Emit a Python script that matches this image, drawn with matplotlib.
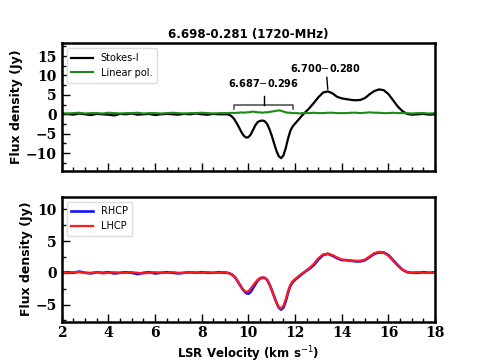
import matplotlib
matplotlib.use("Agg")
import matplotlib.pyplot as plt
import numpy as np
from matplotlib.ticker import MultipleLocator

# Velocity channels (km/s)
vel = [2.0, 2.25, 2.5, 2.75, 3.0, 3.25, 3.5, 3.75, 4.0, 4.25, 4.5, 4.75, 5.0, 5.25, 5.5,
       5.75, 6.0, 6.25, 6.5, 6.75, 7.0, 7.25, 7.5, 7.75, 8.0, 8.25, 8.5, 8.75, 9.0,
       9.1, 9.2, 9.3, 9.4, 9.5, 9.6, 9.7, 9.8, 9.9, 10.0, 10.1, 10.2, 10.3, 10.4, 10.5,
       10.6, 10.7, 10.8, 10.9, 11.0, 11.1, 11.2, 11.3, 11.4, 11.5, 11.6, 11.7, 11.8, 11.9,
       12.0, 12.1, 12.2, 12.3, 12.4,
       12.6, 12.8, 13.0, 13.2, 13.4, 13.6, 13.8, 14.0, 14.2, 14.4, 14.6, 14.8, 15.0, 15.2,
       15.4, 15.6, 15.8, 16.0, 16.2, 16.4, 16.6, 16.8, 17.0,
       17.25, 17.5, 17.75, 18.0]

stokes_i = [0.0, 0.1, -0.1, 0.2, 0.0, -0.2, 0.1, 0.0, -0.1, -0.3, 0.1, 0.0, 0.2, -0.1, 0.0,
            0.1, -0.2, 0.0, 0.1, 0.0, -0.1, 0.1, 0.0, 0.2, 0.0, -0.1, 0.1, 0.0, 0.0,
            0.0, -0.2, -0.6, -1.3, -2.3, -3.4, -4.6, -5.5, -6.0, -5.9, -5.2, -4.0, -2.8, -2.0, -1.7,
            -1.6, -1.8, -2.5, -3.8, -5.5, -7.5, -9.4, -10.8, -11.3, -10.6, -8.7, -6.2, -4.2, -3.1,
            -2.4, -1.7, -1.0, -0.3, 0.3,
            1.5, 2.9, 4.4, 5.6, 5.9, 5.4, 4.5, 4.1, 3.9, 3.7, 3.6, 3.7, 4.2, 5.2,
            6.0, 6.4, 6.2, 5.2, 3.6, 2.0, 0.8, 0.1, -0.1,
            0.0, 0.1, -0.1, 0.0]

linear_pol = [0.3, 0.2, 0.3, 0.4, 0.2, 0.3, 0.3, 0.2, 0.4, 0.3, 0.2, 0.3, 0.3, 0.4, 0.2,
              0.3, 0.3, 0.2, 0.3, 0.4, 0.3, 0.2, 0.3, 0.3, 0.4, 0.3, 0.2, 0.3, 0.3,
              0.3, 0.3, 0.4, 0.3, 0.4, 0.4, 0.5, 0.4, 0.5, 0.5, 0.6, 0.7, 0.6, 0.5, 0.5,
              0.4, 0.5, 0.5, 0.6, 0.7, 0.8, 0.9, 1.0, 0.9, 0.7, 0.5, 0.4, 0.4, 0.3,
              0.3, 0.3, 0.2, 0.3, 0.3,
              0.3, 0.4, 0.3, 0.3, 0.4, 0.4, 0.3, 0.3, 0.3, 0.4, 0.4, 0.3, 0.4, 0.5,
              0.4, 0.4, 0.3, 0.3, 0.4, 0.3, 0.3, 0.3, 0.2,
              0.3, 0.3, 0.2, 0.3]

rhcp = [0.0, 0.1, 0.0, 0.2, 0.0, -0.1, 0.1, 0.0, 0.1, -0.1, 0.0, 0.1, 0.0, -0.2, 0.0,
        0.1, -0.1, 0.0, 0.1, 0.0, -0.1, 0.0, 0.1, 0.0, 0.1, 0.0, 0.0, 0.1, 0.0,
        0.0, -0.1, -0.3, -0.6, -1.1, -1.7, -2.3, -2.8, -3.2, -3.3, -3.0, -2.4, -1.8, -1.2, -0.9,
        -0.8, -0.8, -1.1, -1.8, -2.7, -3.7, -4.7, -5.5, -5.8, -5.5, -4.5, -3.1, -2.0, -1.5,
        -1.1, -0.8, -0.5, -0.2, 0.1,
        0.6, 1.2, 2.1, 2.8, 3.0, 2.7, 2.3, 2.0, 2.0, 1.9, 1.8, 1.8, 2.0, 2.5,
        3.0, 3.2, 3.2, 2.8, 2.0, 1.2, 0.5, 0.1, 0.0,
        0.0, 0.1, 0.0, 0.1]

lhcp = [0.0, 0.0, 0.1, 0.1, 0.0, 0.0, 0.1, -0.1, 0.0, 0.1, 0.0, 0.0, 0.1, 0.0, -0.1,
        0.0, 0.1, 0.0, 0.0, 0.1, 0.0, 0.0, 0.1, 0.0, 0.0, 0.1, 0.0, 0.0, 0.1,
        0.0, -0.1, -0.3, -0.6, -1.1, -1.7, -2.3, -2.8, -3.0, -2.9, -2.5, -2.0, -1.5, -1.1, -0.8,
        -0.7, -0.8, -1.1, -1.8, -2.7, -3.7, -4.7, -5.4, -5.6, -5.2, -4.2, -2.9, -1.9, -1.3,
        -1.0, -0.7, -0.4, -0.1, 0.1,
        0.7, 1.4, 2.3, 2.9, 3.0, 2.8, 2.4, 2.1, 2.0, 1.9, 1.9, 1.9, 2.1, 2.6,
        3.1, 3.3, 3.2, 2.7, 1.9, 1.1, 0.5, 0.1, 0.0,
        0.1, 0.0, 0.0, 0.0]

title = "6.698-0.281 (1720-MHz)"
label_a = "6.687$-$0.296"
label_b = "6.700$-$0.280"
bracket_a = (9.4, 11.9, 2.4, 1.3, 4.7)   # x0, x1, y top, y end, y center tick
label_a_pos = (10.65, 8.0)
tick_b = (13.36, 9.5, 13.4, 6.5)
label_b_pos = (13.3, 11.8)

plt.rcParams['font.family'] = ['DejaVu Sans']
fig = plt.figure(figsize=(4.84, 3.63), dpi=100)
ax1 = fig.add_axes([0.1275, 0.530, 0.7715, 0.351])
ax2 = fig.add_axes([0.1275, 0.114, 0.7715, 0.344])

ax1.plot(vel, stokes_i, color='black', lw=1.6, label='Stokes-I')
ax1.plot(vel, linear_pol, color='#1a8a1a', lw=1.5, label='Linear pol.')
ax2.plot(vel, rhcp, color='#1010ff', lw=1.9, label='RHCP')
ax2.plot(vel, lhcp, color='#ff1a1a', lw=1.6, label='LHCP')

# annotations
x0, x1, yt, ye, yc = bracket_a
ax1.plot([x0, x0, x1, x1], [ye, yt, yt, ye], color='#555555', lw=1.2)
ax1.plot([(x0 + x1) / 2] * 2, [yt, yc], color='black', lw=1.0)
ax1.text(label_a_pos[0], label_a_pos[1], label_a, ha='center', va='center',
         fontsize=7, fontweight='bold')
ax1.plot([tick_b[0], tick_b[2]], [tick_b[1], tick_b[3]], color='black', lw=1.0)
ax1.text(label_b_pos[0], label_b_pos[1], label_b, ha='center', va='center',
         fontsize=7, fontweight='bold')

ax1.set_xlim(2, 18)
ax2.set_xlim(2, 18)
ax1.set_ylim(-14.5, 18.3)
ax2.set_ylim(-7.7, 12)
ax1.set_yticks([-10, -5, 0, 5, 10, 15])
ax2.set_yticks([-5, 0, 5, 10])
ax2.set_xticks(np.arange(2, 19, 2))
for ax in (ax1, ax2):
    ax.xaxis.set_minor_locator(MultipleLocator(0.5))
    ax.yaxis.set_minor_locator(MultipleLocator(2.5))
    ax.tick_params(which='major', direction='in', length=6, width=1.0,
                   labelsize=10, top=False, right=False)
    ax.tick_params(which='minor', direction='in', length=3, width=1.0,
                   top=False, right=False)
    for sp in ax.spines.values():
        sp.set_linewidth(1.8)
    for lab in ax.get_yticklabels() + ax.get_xticklabels():
        lab.set_fontweight('bold')
        lab.set_family('DejaVu Serif')
    ax.set_ylabel('Flux density (Jy)', fontsize=9, fontweight='bold', labelpad=2)
    ax.legend(loc='upper left', fontsize=7, framealpha=1, edgecolor='#dddddd',
              handlelength=2.2, borderpad=0.5)
ax1.tick_params(labelbottom=False)
ax1.set_title(title, fontsize=8.5, fontweight='bold', pad=4)
ax2.set_xlabel('LSR Velocity (km s$^{-1}$)', fontsize=8.5, fontweight='bold', labelpad=3)

fig.savefig('out.png', dpi=100)
